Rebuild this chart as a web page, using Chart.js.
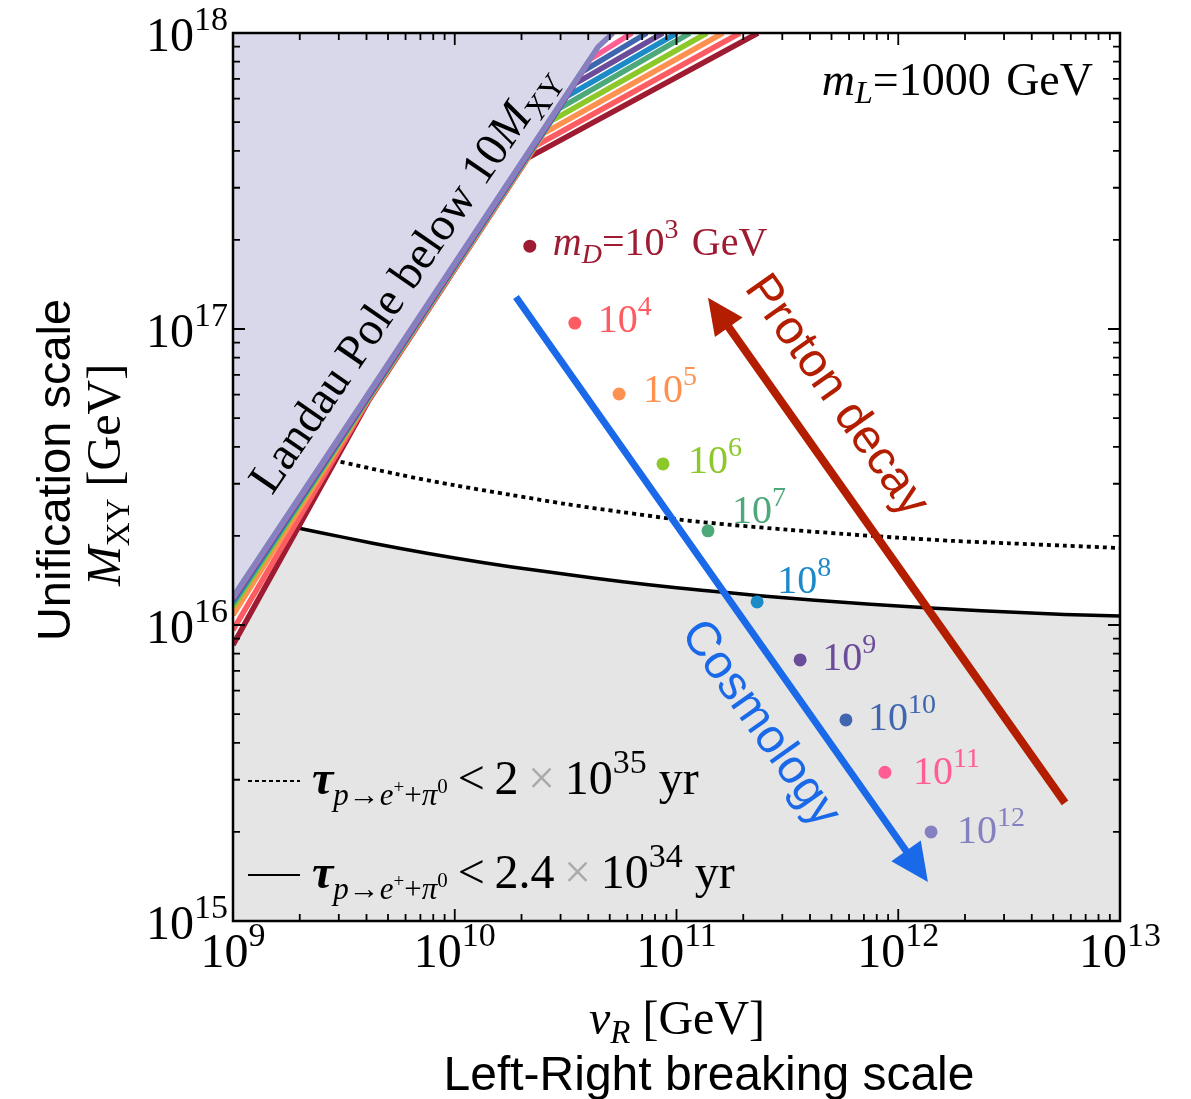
<!DOCTYPE html>
<html><head><meta charset="utf-8">
<script src="https://cdn.jsdelivr.net/npm/chart.js@4.4.0/dist/chart.umd.min.js"></script>
<style>html,body{margin:0;padding:0;background:#fff;}canvas{display:block;}</style>
</head><body>
<canvas id="c" width="1191" height="1099"></canvas>
<script>
// ===== data =====
const mDExponents = ['3','4','5','6','7','8','9','10','11','12'];
const pointX = [2.18e10, 3.48e10, 5.51e10, 8.69e10, 1.387e11, 2.31e11, 3.61e11, 5.81e11, 8.71e11, 1.406e12];
const pointY = [1.905e17, 1.047e17, 6.03e16, 3.50e16, 2.08e16, 1.197e16, 7.62e15, 4.78e15, 3.18e15, 2.0e15];

// Landau-pole boundary lines, one per m_D (10^3 ... 10^12)
const stripeLeftY = [8.56e15, 9.62e15, 1.081e16, 1.151e16, 1.178e16, 1.196e16, 1.215e16, 1.224e16, 1.233e16, 1.244e16];
const stripeMidY = 5.75e16;
const stripeMidX = [4.10e9, 4.08e9, 4.05e9, 4.03e9, 4.01e9, 3.99e9, 3.97e9, 3.94e9, 3.92e9, 3.90e9];
const stripeKneeX = [2.138e10, 2.32e10, 2.516e10, 2.725e10, 2.955e10, 3.204e10, 3.475e10, 3.765e10, 4.083e10, 4.426e10];
const stripeKneeY = [3.787e17, 4.16e17, 4.58e17, 5.05e17, 5.55e17, 6.11e17, 6.73e17, 7.40e17, 8.15e17, 8.97e17];
const stripeTopX = [2.331e11, 1.934e11, 1.621e11, 1.372e11, 1.150e11, 1.005e11, 8.69e10, 7.36e10, 6.30e10, 5.17e10];

// proton decay bounds
const solidX = [1.963e9, 3.16e9, 5.62e9, 1e10, 1.78e10, 3.16e10, 5.62e10, 1e11, 1.78e11, 3.16e11, 5.62e11, 1e12, 1.78e12, 3.16e12, 5.62e12, 1e13];
const solidY = [2.128e16, 1.977e16, 1.816e16, 1.683e16, 1.574e16, 1.483e16, 1.403e16, 1.337e16, 1.282e16, 1.233e16, 1.194e16, 1.159e16, 1.130e16, 1.107e16, 1.086e16, 1.072e16];
const dottedX = [2.825e9, 5.62e9, 1e10, 1.78e10, 3.16e10, 5.62e10, 1e11, 1.78e11, 3.16e11, 5.62e11, 1e12, 1.78e12, 3.16e12, 5.62e12, 1e13];
const dottedY = [3.606e16, 3.221e16, 2.965e16, 2.754e16, 2.564e16, 2.410e16, 2.275e16, 2.178e16, 2.099e16, 2.032e16, 1.972e16, 1.923e16, 1.888e16, 1.854e16, 1.820e16];

// arrows [from, to]
const cosmoArrow = [[1.888e10, 1.282e17], [1.361e12, 1.355e15]];
const protonArrow = [[5.65e12, 2.506e15], [1.387e11, 1.274e17]];

const xTickExp = [9, 10, 11, 12, 13];
const yTickExp = [15, 16, 17, 18];

// ===== styles =====
const colors = ['#9e1b32','#fe5c63','#fe9150','#8cc82a','#4da87a','#1d8ac8','#6b4c9a','#3f66ae','#ff5d94','#8580c0'];
const SERIF = "'Liberation Serif','Times New Roman',serif";
const SANS = "'Liberation Sans',Arial,sans-serif";
const sf = (s, st) => `${st||''} ${s}px ${SERIF}`;

const datasets = [];
const grayPts = [{x:1e9, y:stripeLeftY[0]}].concat(solidX.map((v,i)=>({x:v, y:solidY[i]})));
datasets.push({type:'line', data:grayPts, fill:'start', backgroundColor:'#e5e5e5', borderWidth:0, pointRadius:0, tension:0, order:30});
const stripePts = i => [{x:1e9, y:stripeLeftY[i]}, {x:stripeMidX[i], y:stripeMidY}, {x:stripeKneeX[i], y:stripeKneeY[i]}, {x:stripeTopX[i], y:1e18}];
datasets.push({type:'line', data:stripePts(9), fill:'end', backgroundColor:'#d9d8ea', borderWidth:0, pointRadius:0, tension:0, order:29});
datasets.push({type:'line', data:solidX.map((v,i)=>({x:v,y:solidY[i]})), borderColor:'#000', borderWidth:3.5, pointRadius:0, fill:false, tension:0.3, order:20});
datasets.push({type:'line', data:dottedX.map((v,i)=>({x:v,y:dottedY[i]})), borderColor:'#000', borderWidth:3.8, borderDash:[4,4], pointRadius:0, fill:false, tension:0.3, order:20});
for (let i=0;i<10;i++) {
  datasets.push({type:'line', data:stripePts(i), borderColor:colors[i], borderWidth:5.5, pointRadius:0, fill:false, tension:0, clip:0, order:15-i, borderJoinStyle:'round'});
}
datasets.push({type:'scatter', data:pointX.map((v,i)=>({x:v,y:pointY[i]})), pointBackgroundColor:colors, pointBorderWidth:0, pointRadius:6.5, order:0});

function drawRich(ctx, parts, x, y, align) {
  let total = 0;
  for (const p of parts) { ctx.font = p.f; p.w = ctx.measureText(p.t).width; total += p.w + (p.k||0); }
  let cx = align==='center' ? x - total/2 : (align==='right' ? x - total : x);
  ctx.textAlign = 'left'; ctx.textBaseline = 'alphabetic';
  for (const p of parts) { ctx.font = p.f; if (p.c) ctx.fillStyle = p.c; ctx.fillText(p.t, cx, y + (p.dy||0)); cx += p.w + (p.k||0); }
}
function drawArrow(ctx, p0, p1, color, lw, hl, hw) {
  const dx=p1[0]-p0[0], dy=p1[1]-p0[1], L=Math.hypot(dx,dy), ux=dx/L, uy=dy/L;
  const bx=p1[0]-ux*hl, by=p1[1]-uy*hl;
  ctx.strokeStyle=color; ctx.lineWidth=lw; ctx.lineCap='butt';
  ctx.beginPath(); ctx.moveTo(p0[0],p0[1]); ctx.lineTo(bx+ux*3, by+uy*3); ctx.stroke();
  ctx.fillStyle=color; ctx.beginPath(); ctx.moveTo(p1[0],p1[1]);
  ctx.lineTo(bx-uy*hw, by+ux*hw); ctx.lineTo(bx+uy*hw, by-ux*hw); ctx.closePath(); ctx.fill();
}

const labelOff = [[23,9],[23,9],[24,8],[25,9],[24,-8],[20,-9],[22,10],[22,10],[28,12],[26,11]];

const decor = {
  id:'decor',
  afterDatasetsDraw(chart) {
    const {ctx, chartArea:a, scales} = chart;
    const xs = scales.x, ys = scales.y;
    const P = (v) => [xs.getPixelForValue(v[0]), ys.getPixelForValue(v[1])];
    ctx.save();
    drawArrow(ctx, P(cosmoArrow[0]), P(cosmoArrow[1]), '#1a69e9', 7, 38, 18);
    drawArrow(ctx, P(protonArrow[0]), P(protonArrow[1]), '#b31e00', 8, 36, 17);

    ctx.strokeStyle = '#000'; ctx.lineWidth = 2.5;
    ctx.strokeRect(a.left, a.top, a.right-a.left, a.bottom-a.top);
    ctx.lineWidth = 1.8;
    ctx.beginPath();
    for (let e=9; e<=13; e++) for (let k=1; k<=9; k++) {
      if (e===13 && k>1) break;
      const px = xs.getPixelForValue(k*Math.pow(10,e));
      const len = k===1 ? 12 : 7;
      ctx.moveTo(px, a.bottom); ctx.lineTo(px, a.bottom-len);
      ctx.moveTo(px, a.top); ctx.lineTo(px, a.top+len);
    }
    for (let e=15; e<=18; e++) for (let k=1; k<=9; k++) {
      if (e===18 && k>1) break;
      const py = ys.getPixelForValue(k*Math.pow(10,e));
      const len = k===1 ? 12 : 7;
      ctx.moveTo(a.left, py); ctx.lineTo(a.left+len, py);
      ctx.moveTo(a.right, py); ctx.lineTo(a.right-len, py);
    }
    ctx.stroke();

    ctx.fillStyle = '#000';
    for (const e of xTickExp) {
      const px = xs.getPixelForValue(Math.pow(10,e));
      drawRich(ctx, [{t:'10', f:sf(48)}, {t:String(e), f:sf(34), dy:-21}], px, a.bottom+46, 'center');
    }
    for (const e of yTickExp) {
      const py = ys.getPixelForValue(Math.pow(10,e));
      drawRich(ctx, [{t:'10', f:sf(48)}, {t:String(e), f:sf(34), dy:-21}], a.left-5, py+18, 'right');
    }

    drawRich(ctx, [{t:'v', f:sf(48,'italic')}, {t:'R', f:sf(33,'italic'), dy:9}, {t:' [GeV]', f:sf(48)}], 677, 1034, 'center');
    ctx.font = `48px ${SANS}`; ctx.textAlign='center'; ctx.textBaseline='alphabetic';
    ctx.fillText('Left-Right breaking scale', 709, 1090);
    ctx.save(); ctx.translate(70, 470); ctx.rotate(-Math.PI/2);
    ctx.font = `47px ${SANS}`; ctx.textAlign='center'; ctx.fillText('Unification scale', 0, 0);
    ctx.restore();
    ctx.save(); ctx.translate(120, 475); ctx.rotate(-Math.PI/2);
    drawRich(ctx, [{t:'M', f:sf(48,'italic')}, {t:'XY', f:sf(33), dy:9}, {t:' [GeV]', f:sf(48)}], 0, 0, 'center');
    ctx.restore();

    ctx.fillStyle = '#000';
    drawRich(ctx, [{t:'m', f:sf(46,'italic')}, {t:'L', f:sf(32,'italic'), dy:8}, {t:'=1000\u2004GeV', f:sf(46)}], 1093, 95, 'right');

    for (let i=0;i<10;i++) {
      const p = P([pointX[i], pointY[i]]);
      const x0 = p[0]+labelOff[i][0], y0 = p[1]+labelOff[i][1];
      ctx.fillStyle = colors[i];
      if (i===0) {
        drawRich(ctx, [{t:'m', f:sf(40,'italic')}, {t:'D', f:sf(28,'italic'), dy:8}, {t:'=10', f:sf(40)}, {t:mDExponents[i], f:sf(28), dy:-17}, {t:'\u2004GeV', f:sf(40)}], x0, y0, 'left');
      } else {
        drawRich(ctx, [{t:'10', f:sf(40)}, {t:mDExponents[i], f:sf(28), dy:-17}], x0, y0, 'left');
      }
    }

    // Landau pole text
    ctx.save(); ctx.translate(272, 496); ctx.rotate(-55.5*Math.PI/180);
    ctx.fillStyle = '#000';
    drawRich(ctx, [{t:'Landau Pole below 10', f:sf(47)}, {t:'M', f:sf(47,'italic')}, {t:'XY', f:sf(32), dy:9}], 0, 0, 'left');
    ctx.restore();

    const ang = 54.8*Math.PI/180;
    ctx.save(); ctx.translate(836, 396); ctx.rotate(ang);
    ctx.font = `48px ${SANS}`; ctx.fillStyle = '#b31e00'; ctx.textAlign='center'; ctx.textBaseline='middle';
    ctx.fillText('Proton decay', 0, 0); ctx.restore();
    ctx.save(); ctx.translate(760, 724); ctx.rotate(ang);
    ctx.font = `48px ${SANS}`; ctx.fillStyle = '#1a69e9'; ctx.textAlign='center'; ctx.textBaseline='middle';
    ctx.fillText('Cosmology', 0, 0); ctx.restore();

    // legend
    ctx.strokeStyle = '#000'; ctx.lineWidth = 2; ctx.setLineDash([4,3]);
    ctx.beginPath(); ctx.moveTo(248, 781); ctx.lineTo(300, 781); ctx.stroke();
    ctx.setLineDash([]);
    ctx.beginPath(); ctx.moveTo(248, 875); ctx.lineTo(300, 875); ctx.stroke();
    const tau = (rest) => [
      {t:'\u03c4', f:sf(48,'bold italic'), c:'#000'},
      {t:'p', f:sf(31,'italic'), dy:11}, {t:'\u2192', f:sf(31), dy:11}, {t:'e', f:sf(31,'italic'), dy:11},
      {t:'+', f:sf(19), dy:-1}, {t:'+', f:sf(31), dy:11}, {t:'\u03c0', f:sf(31,'italic'), dy:11}, {t:'0', f:sf(21), dy:-1, k:10}
    ].concat(rest);
    drawRich(ctx, tau([{t:'<\u20092\u2009', f:sf(48)}, {t:'\u00d7', f:sf(48), c:'#aaaaaa'}, {t:'\u200910', f:sf(48), c:'#000'}, {t:'35', f:sf(34), dy:-21}, {t:' yr', f:sf(48)}]), 312, 794, 'left');
    drawRich(ctx, tau([{t:'<\u20092.4\u2009', f:sf(48)}, {t:'\u00d7', f:sf(48), c:'#aaaaaa'}, {t:'\u200910', f:sf(48), c:'#000'}, {t:'34', f:sf(34), dy:-21}, {t:' yr', f:sf(48)}]), 312, 888, 'left');
    ctx.restore();
  }
};

new Chart(document.getElementById('c'), {
  type:'line',
  data:{datasets},
  options:{
    responsive:false, animation:false, devicePixelRatio:1,
    layout:{padding:{left:233, right:71, top:33, bottom:178}},
    plugins:{legend:{display:false}, tooltip:{enabled:false}},
    scales:{
      x:{type:'logarithmic', min:1e9, max:1e13, display:false},
      y:{type:'logarithmic', min:1e15, max:1e18, display:false}
    }
  },
  plugins:[decor]
});
</script>
</body></html>
